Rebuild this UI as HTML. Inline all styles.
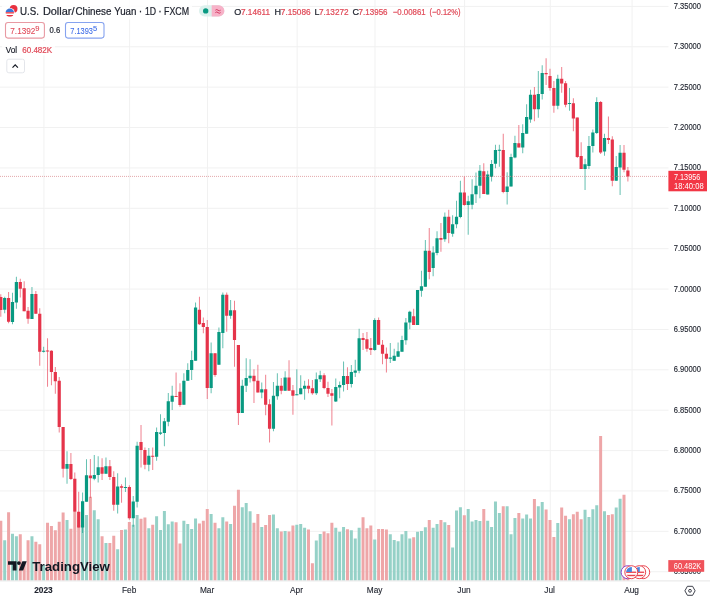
<!DOCTYPE html>
<html><head><meta charset="utf-8"><style>
html,body{margin:0;padding:0;background:#fff;width:710px;height:600px;overflow:hidden;font-family:"Liberation Sans",sans-serif;}
svg{position:absolute;left:0;top:0;font-family:"Liberation Sans",sans-serif;will-change:transform;}
</style></head><body>
<svg width="710" height="600" viewBox="0 0 710 600">
<path d="M0 6.4H668.5M0 46.78H668.5M0 87.16H668.5M0 127.54H668.5M0 167.92H668.5M0 208.3H668.5M0 248.68H668.5M0 289.06H668.5M0 329.44H668.5M0 369.82H668.5M0 410.2H668.5M0 450.58H668.5M0 490.96H668.5M0 531.34H668.5M0 571.72H668.5M43.94 0V580.5M129.64 0V580.5M207.54 0V580.5M297.12 0V580.5M375.02 0V580.5M464.61 0V580.5M550.29 0V580.5M632.09 0V580.5" stroke="#f1f1f1" stroke-width="1" fill="none"/>
<path d="M3.2 540.2h3V580.5h-3ZM10.99 533.8h3V580.5h-3ZM14.88 536.2h3V580.5h-3ZM30.46 536.2h3V580.5h-3ZM42.14 565h3V580.5h-3ZM65.52 520h3V580.5h-3ZM81.09 520h3V580.5h-3ZM84.99 515h3V580.5h-3ZM92.78 510.3h3V580.5h-3ZM96.67 519.2h3V580.5h-3ZM104.47 543h3V580.5h-3ZM116.15 549.2h3V580.5h-3ZM123.94 529.5h3V580.5h-3ZM131.73 524.7h3V580.5h-3ZM135.62 515h3V580.5h-3ZM147.31 528.3h3V580.5h-3ZM155.1 516.3h3V580.5h-3ZM159 530h3V580.5h-3ZM162.89 511h3V580.5h-3ZM166.79 524.2h3V580.5h-3ZM170.68 521.4h3V580.5h-3ZM182.37 520.8h3V580.5h-3ZM186.26 524.1h3V580.5h-3ZM190.16 529.1h3V580.5h-3ZM194.05 518.6h3V580.5h-3ZM209.63 514h3V580.5h-3ZM217.42 528.3h3V580.5h-3ZM221.32 517.3h3V580.5h-3ZM229.11 524.1h3V580.5h-3ZM240.79 507.2h3V580.5h-3ZM244.69 503h3V580.5h-3ZM248.58 511.3h3V580.5h-3ZM260.26 526.9h3V580.5h-3ZM271.95 514.4h3V580.5h-3ZM275.85 528.3h3V580.5h-3ZM283.63 530.9h3V580.5h-3ZM295.32 524.7h3V580.5h-3ZM299.22 524.1h3V580.5h-3ZM303.11 527.8h3V580.5h-3ZM314.8 540.6h3V580.5h-3ZM318.69 533.9h3V580.5h-3ZM334.27 527.8h3V580.5h-3ZM338.17 531.8h3V580.5h-3ZM342.06 526.9h3V580.5h-3ZM349.85 530.2h3V580.5h-3ZM353.75 538.4h3V580.5h-3ZM357.64 527.8h3V580.5h-3ZM373.22 539.4h3V580.5h-3ZM388.8 534.2h3V580.5h-3ZM392.69 540.1h3V580.5h-3ZM396.59 541.2h3V580.5h-3ZM400.49 534.2h3V580.5h-3ZM404.38 531.1h3V580.5h-3ZM408.28 538.4h3V580.5h-3ZM416.06 531.8h3V580.5h-3ZM419.96 531.1h3V580.5h-3ZM423.86 527.2h3V580.5h-3ZM431.65 527.8h3V580.5h-3ZM435.54 524.1h3V580.5h-3ZM443.33 522.3h3V580.5h-3ZM451.12 547.4h3V580.5h-3ZM455.01 510.4h3V580.5h-3ZM458.91 507.2h3V580.5h-3ZM466.7 509.1h3V580.5h-3ZM470.6 521.4h3V580.5h-3ZM474.49 520.1h3V580.5h-3ZM478.38 521h3V580.5h-3ZM486.18 520.8h3V580.5h-3ZM490.07 526.9h3V580.5h-3ZM493.97 501.6h3V580.5h-3ZM497.86 513.1h3V580.5h-3ZM505.65 506.3h3V580.5h-3ZM509.55 534.2h3V580.5h-3ZM513.44 518.1h3V580.5h-3ZM521.23 518.6h3V580.5h-3ZM525.12 514.4h3V580.5h-3ZM529.02 518.6h3V580.5h-3ZM536.81 506.3h3V580.5h-3ZM540.7 502.1h3V580.5h-3ZM556.28 523h3V580.5h-3ZM567.97 519.2h3V580.5h-3ZM583.55 509.7h3V580.5h-3ZM587.44 517h3V580.5h-3ZM591.34 509.2h3V580.5h-3ZM595.24 505.3h3V580.5h-3ZM603.02 511.2h3V580.5h-3ZM614.71 507.5h3V580.5h-3ZM618.6 498.7h3V580.5h-3Z" fill="#95d1c7"/>
<path d="M-0.7 520.7h3V580.5h-3ZM7.09 512.2h3V580.5h-3ZM18.78 534.2h3V580.5h-3ZM22.67 562h3V580.5h-3ZM26.57 540.2h3V580.5h-3ZM34.35 541.7h3V580.5h-3ZM38.25 544.3h3V580.5h-3ZM46.04 522.7h3V580.5h-3ZM49.93 526h3V580.5h-3ZM53.83 530.2h3V580.5h-3ZM57.72 521.8h3V580.5h-3ZM61.62 512.5h3V580.5h-3ZM69.41 528.7h3V580.5h-3ZM73.3 512h3V580.5h-3ZM77.2 525h3V580.5h-3ZM88.88 496.7h3V580.5h-3ZM100.57 536.3h3V580.5h-3ZM108.36 543h3V580.5h-3ZM112.25 535.8h3V580.5h-3ZM120.05 530h3V580.5h-3ZM127.84 522h3V580.5h-3ZM139.52 518.7h3V580.5h-3ZM143.42 517.5h3V580.5h-3ZM151.21 524.7h3V580.5h-3ZM174.58 522.3h3V580.5h-3ZM178.47 543.4h3V580.5h-3ZM197.95 523.6h3V580.5h-3ZM201.84 520.8h3V580.5h-3ZM205.74 509.1h3V580.5h-3ZM213.53 522.8h3V580.5h-3ZM225.21 521.4h3V580.5h-3ZM233 505.8h3V580.5h-3ZM236.9 489.8h3V580.5h-3ZM252.48 522.8h3V580.5h-3ZM256.37 514h3V580.5h-3ZM264.16 525h3V580.5h-3ZM268.06 515h3V580.5h-3ZM279.74 531.5h3V580.5h-3ZM287.53 531.5h3V580.5h-3ZM291.43 525.4h3V580.5h-3ZM307 529.6h3V580.5h-3ZM310.9 563.2h3V580.5h-3ZM322.59 531.5h3V580.5h-3ZM326.48 533.3h3V580.5h-3ZM330.38 522.8h3V580.5h-3ZM345.96 529.3h3V580.5h-3ZM361.54 517.3h3V580.5h-3ZM365.43 528.3h3V580.5h-3ZM369.32 525.4h3V580.5h-3ZM377.12 529.1h3V580.5h-3ZM381.01 529.1h3V580.5h-3ZM384.91 529.6h3V580.5h-3ZM412.17 537.3h3V580.5h-3ZM427.75 520.1h3V580.5h-3ZM439.44 520.1h3V580.5h-3ZM447.23 525h3V580.5h-3ZM462.81 515.3h3V580.5h-3ZM482.28 509.1h3V580.5h-3ZM501.75 506.3h3V580.5h-3ZM517.33 513.1h3V580.5h-3ZM532.91 499h3V580.5h-3ZM544.6 509.4h3V580.5h-3ZM548.5 519.9h3V580.5h-3ZM552.39 537h3V580.5h-3ZM560.18 507.5h3V580.5h-3ZM564.07 515.8h3V580.5h-3ZM571.87 514.2h3V580.5h-3ZM575.76 511.7h3V580.5h-3ZM579.65 519.2h3V580.5h-3ZM599.13 436h3V580.5h-3ZM606.92 515h3V580.5h-3ZM610.81 514.2h3V580.5h-3ZM622.5 494.7h3V580.5h-3ZM626.39 572h3V580.5h-3Z" fill="#eea6a8"/>
<path d="M4.2 296.7h1V313.3h-1ZM11.99 292.7h1V324.2h-1ZM15.88 276.7h1V308.7h-1ZM31.46 287h1V319h-1ZM43.14 346.7h1V352.5h-1ZM66.52 451.3h1V483.7h-1ZM82.09 492.5h1V533h-1ZM85.99 459.2h1V501.7h-1ZM93.78 455h1V480.3h-1ZM97.67 456.3h1V482.5h-1ZM105.47 457.5h1V473.7h-1ZM117.15 473.3h1V513.5h-1ZM124.94 477.5h1V492h-1ZM132.73 496h1V526.7h-1ZM136.62 441.7h1V507.5h-1ZM148.31 448h1V471.3h-1ZM156.1 427.5h1V460.8h-1ZM160 414.2h1V435h-1ZM163.89 418h1V446.3h-1ZM167.79 393h1V426.3h-1ZM171.68 385.8h1V410h-1ZM183.37 373.3h1V404.7h-1ZM187.26 363.3h1V380.8h-1ZM191.16 350.8h1V380h-1ZM195.05 302.5h1V360.8h-1ZM210.63 342.5h1V393.3h-1ZM218.42 327.5h1V364.7h-1ZM222.32 292.5h1V348.3h-1ZM230.11 300h1V318.7h-1ZM241.79 379.7h1V413h-1ZM245.69 358.3h1V392h-1ZM249.58 359.2h1V382.5h-1ZM261.26 382.5h1V398.3h-1ZM272.95 382h1V431.3h-1ZM276.85 373.3h1V399.7h-1ZM284.63 371.3h1V390.8h-1ZM296.32 369.2h1V395.3h-1ZM300.22 375.3h1V394.2h-1ZM304.11 380.8h1V399.7h-1ZM315.8 372.5h1V395h-1ZM319.69 370.8h1V382h-1ZM335.27 378.5h1V402h-1ZM339.17 381.5h1V398.3h-1ZM343.06 361.5h1V391.5h-1ZM350.85 365h1V387.5h-1ZM354.75 359.7h1V377h-1ZM358.64 328.7h1V373.3h-1ZM374.22 318.3h1V350.8h-1ZM389.8 343h1V363h-1ZM393.69 348.7h1V360.8h-1ZM397.59 342.5h1V356.7h-1ZM401.49 335.8h1V351.7h-1ZM405.38 318h1V344.7h-1ZM409.28 310.8h1V329.2h-1ZM417.06 290h1V325h-1ZM420.96 270.8h1V296.7h-1ZM424.86 240h1V286.7h-1ZM432.65 246.3h1V276.3h-1ZM436.54 231.3h1V255.3h-1ZM444.33 212.5h1V241.7h-1ZM452.12 215.3h1V236.7h-1ZM456.01 200.8h1V228.3h-1ZM459.91 180.8h1V218.3h-1ZM467.7 195.8h1V234.7h-1ZM471.6 179.2h1V209.2h-1ZM475.49 172.5h1V203h-1ZM479.38 165h1V198.3h-1ZM487.18 170.8h1V194.4h-1ZM491.07 160h1V181.5h-1ZM494.97 144.7h1V168.3h-1ZM498.86 144.7h1V166.7h-1ZM506.65 172.2h1V204.5h-1ZM510.55 153.7h1V186.5h-1ZM514.44 135.8h1V158.3h-1ZM522.23 124.2h1V153.3h-1ZM526.12 104.2h1V133.7h-1ZM530.02 89.7h1V122.7h-1ZM537.81 71h1V117.7h-1ZM541.7 65.3h1V99.6h-1ZM557.28 74.7h1V109.3h-1ZM568.97 88h1V110.7h-1ZM584.55 158.8h1V190h-1ZM588.44 135.9h1V168.9h-1ZM592.34 129.4h1V152.4h-1ZM596.24 97.3h1V134h-1ZM604.02 133.7h1V155.7h-1ZM615.71 156h1V180.8h-1ZM619.6 145h1V195h-1Z" fill="#089981" fill-opacity="0.62"/>
<path d="M3.1 298h3.2v11.7h-3.2ZM10.89 302h3.2v20h-3.2ZM14.78 282h3.2v20.5h-3.2ZM30.36 294h3.2v25h-3.2ZM42.04 350.8h3.2v1h-3.2ZM65.42 464h3.2v4.7h-3.2ZM81 501.3h3.2v26.2h-3.2ZM84.89 475.3h3.2v26.4h-3.2ZM92.68 475h3.2v3.7h-3.2ZM96.58 467.2h3.2v7.8h-3.2ZM104.37 466.2h3.2v7.5h-3.2ZM116.05 486.5h3.2v18.2h-3.2ZM123.84 487h3.2v1h-3.2ZM131.63 501.5h3.2v16.8h-3.2ZM135.53 445.8h3.2v55.9h-3.2ZM147.21 455.8h3.2v8.9h-3.2ZM155 432h3.2v24.7h-3.2ZM158.9 432.5h3.2v1.2h-3.2ZM162.79 421.3h3.2v11.7h-3.2ZM166.69 401.3h3.2v20.4h-3.2ZM170.58 395.8h3.2v5.9h-3.2ZM182.27 380.8h3.2v23.9h-3.2ZM186.16 370h3.2v10.8h-3.2ZM190.06 360h3.2v10h-3.2ZM193.95 307.5h3.2v53.3h-3.2ZM209.53 353.3h3.2v34.7h-3.2ZM217.32 332h3.2v32.7h-3.2ZM221.22 294.7h3.2v38.3h-3.2ZM229.01 310.3h3.2v5.5h-3.2ZM240.69 385.8h3.2v27.2h-3.2ZM244.59 378h3.2v7.8h-3.2ZM248.48 375.8h3.2v2.5h-3.2ZM260.16 389.2h3.2v3.3h-3.2ZM271.85 395.8h3.2v32.9h-3.2ZM275.75 385.8h3.2v10.5h-3.2ZM283.53 377.5h3.2v13.3h-3.2ZM295.22 394.2h3.2v1.1h-3.2ZM299.12 388.3h3.2v5.9h-3.2ZM303.01 385.8h3.2v2.9h-3.2ZM314.69 379.2h3.2v14.1h-3.2ZM318.59 375.3h3.2v3.9h-3.2ZM334.17 387h3.2v14.5h-3.2ZM338.06 385h3.2v2.5h-3.2ZM341.96 376h3.2v9h-3.2ZM349.75 372h3.2v12h-3.2ZM353.64 370.5h3.2v2.3h-3.2ZM357.54 338.3h3.2v32.5h-3.2ZM373.12 320h3.2v30h-3.2ZM388.7 357.5h3.2v1.2h-3.2ZM392.59 355.8h3.2v5h-3.2ZM396.49 351.3h3.2v5.4h-3.2ZM400.38 340h3.2v11.7h-3.2ZM404.28 322.5h3.2v17.8h-3.2ZM408.18 311.7h3.2v10.8h-3.2ZM415.96 290h3.2v35h-3.2ZM419.86 286.3h3.2v4.5h-3.2ZM423.75 250.8h3.2v35.9h-3.2ZM431.55 252.5h3.2v15.5h-3.2ZM435.44 238.3h3.2v14.7h-3.2ZM443.23 216.7h3.2v22.5h-3.2ZM451.02 224.2h3.2v9.5h-3.2ZM454.91 216.7h3.2v7.5h-3.2ZM458.81 192.5h3.2v24.5h-3.2ZM466.6 201.3h3.2v3.7h-3.2ZM470.5 194.2h3.2v10.5h-3.2ZM474.39 185.8h3.2v8.4h-3.2ZM478.28 170.8h3.2v15h-3.2ZM486.07 174.6h3.2v19.8h-3.2ZM489.97 164h3.2v13h-3.2ZM493.87 150h3.2v13.7h-3.2ZM497.76 149.7h3.2v1.1h-3.2ZM505.55 186.5h3.2v5.6h-3.2ZM509.44 157h3.2v29.5h-3.2ZM513.34 143h3.2v14.5h-3.2ZM521.13 133h3.2v14.5h-3.2ZM525.02 117h3.2v16.7h-3.2ZM528.92 94.7h3.2v24.9h-3.2ZM536.71 94h3.2v15.3h-3.2ZM540.6 73h3.2v21h-3.2ZM556.18 78.7h3.2v27h-3.2ZM567.87 103h3.2v1h-3.2ZM583.45 164.3h3.2v4.6h-3.2ZM587.34 146h3.2v20.1h-3.2ZM591.24 132.6h3.2v13.4h-3.2ZM595.13 101.9h3.2v31.2h-3.2ZM602.92 138h3.2v13.5h-3.2ZM614.61 167h3.2v13.8h-3.2ZM618.5 152.8h3.2v14.6h-3.2Z" fill="#089981"/>
<path d="M0.3 294.2h1V316.7h-1ZM8.09 292h1V323.3h-1ZM19.78 278.8h1V297.5h-1ZM23.67 281.3h1V311.3h-1ZM27.57 307h1V323.7h-1ZM35.35 291h1V313.8h-1ZM39.25 308.3h1V365.8h-1ZM47.04 338.3h1V386.7h-1ZM50.93 350.3h1V385.3h-1ZM54.83 367h1V393.7h-1ZM58.72 377h1V432.5h-1ZM62.62 427h1V477.5h-1ZM70.41 453h1V480h-1ZM74.3 472.5h1V511.7h-1ZM78.2 491.7h1V527.5h-1ZM89.88 459h1V498h-1ZM101.57 458.3h1V480h-1ZM109.36 460h1V480h-1ZM113.25 471.3h1V510.8h-1ZM121.05 484.2h1V502.8h-1ZM128.84 485.2h1V519.7h-1ZM140.52 425h1V467.5h-1ZM144.42 447.5h1V469.2h-1ZM152.21 447.5h1V470h-1ZM175.58 372.5h1V396.7h-1ZM179.47 383.3h1V406.7h-1ZM198.95 296.7h1V325h-1ZM202.84 317.5h1V333.3h-1ZM206.74 320h1V399h-1ZM214.53 353.3h1V376.7h-1ZM226.21 292.5h1V331.7h-1ZM234 300.8h1V366.7h-1ZM237.9 345h1V425h-1ZM253.48 369.2h1V403h-1ZM257.37 364.7h1V392.5h-1ZM265.16 374.7h1V415.3h-1ZM269.06 399.2h1V442.5h-1ZM280.74 378h1V394.2h-1ZM288.53 360.3h1V390.8h-1ZM292.43 385h1V414.7h-1ZM308 379.2h1V393.3h-1ZM311.9 380h1V394.7h-1ZM323.59 373.3h1V389.2h-1ZM327.48 381.7h1V397h-1ZM331.38 389h1V425.5h-1ZM346.96 367.2h1V390h-1ZM362.54 333h1V350h-1ZM366.43 332h1V351.7h-1ZM370.32 338h1V355h-1ZM378.12 317.5h1V345h-1ZM382.01 340h1V364.2h-1ZM385.91 347.5h1V372.5h-1ZM413.17 308.7h1V325h-1ZM428.75 228h1V279.2h-1ZM440.44 223h1V251.7h-1ZM448.23 209.7h1V243.3h-1ZM463.81 176.3h1V205.8h-1ZM483.28 163.3h1V194h-1ZM502.75 133.7h1V193.2h-1ZM518.33 125h1V147.5h-1ZM533.91 87h1V121.3h-1ZM545.6 58.3h1V85h-1ZM549.5 68.7h1V90.7h-1ZM553.39 81h1V112.7h-1ZM561.18 67h1V92.7h-1ZM565.07 81h1V107.3h-1ZM572.87 98.3h1V131.3h-1ZM576.76 117.5h1V157.9h-1ZM580.65 142.3h1V168.9h-1ZM600.13 101h1V153.9h-1ZM607.92 116.6h1V144.1h-1ZM611.81 136.2h1V186.3h-1ZM623.5 145h1V172.2h-1ZM627.39 167h1V181.4h-1Z" fill="#e5344a" fill-opacity="0.62"/>
<path d="M-0.8 297h3.2v13h-3.2ZM6.99 298h3.2v23.7h-3.2ZM18.68 282h3.2v6.7h-3.2ZM22.57 288.3h3.2v23h-3.2ZM26.46 310.8h3.2v7.9h-3.2ZM34.25 294h3.2v19.8h-3.2ZM38.15 313.8h3.2v37.9h-3.2ZM45.94 350.5h3.2v1h-3.2ZM49.83 350.8h3.2v21.2h-3.2ZM53.73 372h3.2v9.2h-3.2ZM57.62 380.8h3.2v46.2h-3.2ZM61.52 427h3.2v41.7h-3.2ZM69.31 464h3.2v15h-3.2ZM73.2 478.7h3.2v33h-3.2ZM77.1 511.7h3.2v15.8h-3.2ZM88.78 475.5h3.2v2.8h-3.2ZM100.47 467.2h3.2v6.5h-3.2ZM108.26 466.2h3.2v10.8h-3.2ZM112.16 477h3.2v27.7h-3.2ZM119.95 486.3h3.2v1.5h-3.2ZM127.74 487h3.2v31.3h-3.2ZM139.42 442h3.2v8h-3.2ZM143.32 450h3.2v14.7h-3.2ZM151.11 455.8h3.2v1h-3.2ZM174.48 396h3.2v1h-3.2ZM178.37 391.7h3.2v13.3h-3.2ZM197.85 309.7h3.2v14.5h-3.2ZM201.74 323h3.2v4h-3.2ZM205.64 327h3.2v61h-3.2ZM213.43 353.3h3.2v21.7h-3.2ZM225.11 294.7h3.2v21.1h-3.2ZM232.9 310.3h3.2v29.7h-3.2ZM236.8 345h3.2v68h-3.2ZM252.38 375.8h3.2v5.5h-3.2ZM256.27 380.8h3.2v11.7h-3.2ZM264.06 389.2h3.2v15.5h-3.2ZM267.95 404.2h3.2v24.5h-3.2ZM279.64 385.8h3.2v5h-3.2ZM287.43 377.5h3.2v13.3h-3.2ZM291.32 390.3h3.2v5.5h-3.2ZM306.9 385.8h3.2v2.9h-3.2ZM310.8 388.3h3.2v5h-3.2ZM322.49 375.3h3.2v12.7h-3.2ZM326.38 388h3.2v5.7h-3.2ZM330.27 393.3h3.2v2.5h-3.2ZM345.86 376h3.2v8h-3.2ZM361.44 338h3.2v2h-3.2ZM365.33 339.2h3.2v9.5h-3.2ZM369.22 348h3.2v2h-3.2ZM377.01 320h3.2v24.7h-3.2ZM380.91 344.7h3.2v9h-3.2ZM384.81 353.7h3.2v5h-3.2ZM412.07 316.3h3.2v8.7h-3.2ZM427.65 250.8h3.2v21.2h-3.2ZM439.33 238h3.2v1.7h-3.2ZM447.12 216.7h3.2v16.3h-3.2ZM462.7 192.5h3.2v12.5h-3.2ZM482.18 171.3h3.2v22.7h-3.2ZM501.65 150h3.2v42.1h-3.2ZM517.23 143.3h3.2v4.2h-3.2ZM532.81 94.7h3.2v14.6h-3.2ZM544.5 73h3.2v1.3h-3.2ZM548.39 76h3.2v12h-3.2ZM552.29 88h3.2v17.7h-3.2ZM560.08 78.7h3.2v4.9h-3.2ZM563.97 83.3h3.2v21.4h-3.2ZM571.76 103.2h3.2v15.2h-3.2ZM575.66 117.5h3.2v39.5h-3.2ZM579.55 156h3.2v12.9h-3.2ZM599.03 101.9h3.2v50.5h-3.2ZM606.82 138h3.2v1.9h-3.2ZM610.71 139.5h3.2v41.3h-3.2ZM622.4 152.8h3.2v17h-3.2ZM626.29 170.4h3.2v6.2h-3.2Z" fill="#e5344a"/>
<line x1="0" y1="176.4" x2="668" y2="176.4" stroke="#d98a8f" stroke-opacity="0.75" stroke-width="1" stroke-dasharray="1 1"/>
<g font-size="9.3" fill="#1e222d" stroke="#1e222d" stroke-width="0.15"><text x="673.7" y="8.9" textLength="27.3" lengthAdjust="spacingAndGlyphs">7.35000</text><text x="673.7" y="49.28" textLength="27.3" lengthAdjust="spacingAndGlyphs">7.30000</text><text x="673.7" y="89.66" textLength="27.3" lengthAdjust="spacingAndGlyphs">7.25000</text><text x="673.7" y="130.04" textLength="27.3" lengthAdjust="spacingAndGlyphs">7.20000</text><text x="673.7" y="170.42" textLength="27.3" lengthAdjust="spacingAndGlyphs">7.15000</text><text x="673.7" y="210.8" textLength="27.3" lengthAdjust="spacingAndGlyphs">7.10000</text><text x="673.7" y="251.18" textLength="27.3" lengthAdjust="spacingAndGlyphs">7.05000</text><text x="673.7" y="291.56" textLength="27.3" lengthAdjust="spacingAndGlyphs">7.00000</text><text x="673.7" y="331.94" textLength="27.3" lengthAdjust="spacingAndGlyphs">6.95000</text><text x="673.7" y="372.32" textLength="27.3" lengthAdjust="spacingAndGlyphs">6.90000</text><text x="673.7" y="412.7" textLength="27.3" lengthAdjust="spacingAndGlyphs">6.85000</text><text x="673.7" y="453.08" textLength="27.3" lengthAdjust="spacingAndGlyphs">6.80000</text><text x="673.7" y="493.46" textLength="27.3" lengthAdjust="spacingAndGlyphs">6.75000</text><text x="673.7" y="533.84" textLength="27.3" lengthAdjust="spacingAndGlyphs">6.70000</text><text x="673.7" y="574.22" textLength="27.3" lengthAdjust="spacingAndGlyphs">6.65000</text></g>
<rect x="668.4" y="170.8" width="38.6" height="20.5" fill="#f23645"/>
<g font-size="9.3" fill="#fff"><text x="674" y="180.1" textLength="26.3" lengthAdjust="spacingAndGlyphs">7.13956</text><text x="674" y="189.2" textLength="29.7" lengthAdjust="spacingAndGlyphs">18:40:08</text></g>
<rect x="668.3" y="560.1" width="35.9" height="11.7" fill="#f0525a"/>
<text x="673.8" y="569.4" font-size="9.3" fill="#fff" textLength="27.5" lengthAdjust="spacingAndGlyphs">60.482K</text>
<line x1="0" y1="580.9" x2="710" y2="580.9" stroke="#e6e6e6" stroke-width="1"/>
<g font-size="8.3" fill="#1e222d" stroke="#1e222d" stroke-width="0.12"><text x="43.4" y="593" text-anchor="middle" font-weight="bold">2023</text><text x="129.2" y="593" text-anchor="middle">Feb</text><text x="207.1" y="593" text-anchor="middle">Mar</text><text x="296.5" y="593" text-anchor="middle">Apr</text><text x="374.7" y="593" text-anchor="middle">May</text><text x="464" y="593" text-anchor="middle">Jun</text><text x="549.6" y="593" text-anchor="middle">Jul</text><text x="631.6" y="593" text-anchor="middle">Aug</text></g>
<g transform="translate(690 590.8)" fill="none" stroke="#2a2e39" stroke-width="0.9"><path d="M-2.6 -4.5L2.6 -4.5L5.1 0L2.6 4.5L-2.6 4.5L-5.1 0Z"/><circle r="1.4"/></g>
<circle cx="643.2" cy="572.2" r="6.5" fill="#fff" stroke="#e8434e" stroke-width="1"/>
<circle cx="639.2" cy="572.2" r="6.5" fill="#fff" stroke="#e8434e" stroke-width="1"/><clipPath id="e2"><circle cx="639.2" cy="572.2" r="5.2"/></clipPath><g clip-path="url(#e2)"><rect x="634.0" y="567.0" width="10.4" height="10.4" fill="#fff"/><rect x="634.0" y="571.6" width="10.4" height="1.3" fill="#e8434e"/><rect x="634.0" y="574.8000000000001" width="10.4" height="1.4" fill="#e8434e"/><rect x="634.0" y="567.0" width="5.8" height="5.0" fill="#4a86e0"/></g>
<circle cx="627.6" cy="572.2" r="6.5" fill="#fff" stroke="#8e44c8" stroke-width="1"/>
<circle cx="631.3" cy="572.2" r="6.5" fill="#fff" stroke="#e8434e" stroke-width="1"/><clipPath id="e1"><circle cx="631.3" cy="572.2" r="5.2"/></clipPath><g clip-path="url(#e1)"><rect x="626.0999999999999" y="567.0" width="10.4" height="10.4" fill="#fff"/><rect x="626.0999999999999" y="571.6" width="10.4" height="1.3" fill="#e8434e"/><rect x="626.0999999999999" y="574.8000000000001" width="10.4" height="1.4" fill="#e8434e"/><rect x="626.0999999999999" y="567.0" width="5.8" height="5.0" fill="#4a86e0"/></g>
<g fill="#131722"><path d="M8 561.3h8.5v9.3h-3.8v-5.9h-4.7z"/><circle cx="18.9" cy="563.1" r="1.9"/><path d="M22.4 561.3h4.3l-3.6 9.3h-4.3z"/></g>
<text x="32.2" y="571.1" font-size="13.7" font-weight="bold" fill="#131722" textLength="77.7" lengthAdjust="spacingAndGlyphs">TradingView</text>
<g fill="#fff" fill-opacity="0.85"><rect x="2" y="0" width="190" height="19.5"/><rect x="2" y="20" width="105" height="20"/><rect x="2" y="41" width="53" height="14.5"/></g>
<circle cx="13.6" cy="8.8" r="3.9" fill="#e8303f"/>
<clipPath id="hf"><circle cx="9.8" cy="12.8" r="4.2"/></clipPath><circle cx="9.8" cy="12.8" r="4.9" fill="#fff"/><g clip-path="url(#hf)"><rect x="5" y="8" width="10" height="10" fill="#fff"/><rect x="5" y="12.2" width="10" height="1.3" fill="#e8303f"/><rect x="5" y="15" width="10" height="1.6" fill="#e8303f"/><rect x="5" y="8" width="10" height="4" fill="#3c78d8"/></g>
<text x="19.9" y="14.7" font-size="10.4" fill="#1e222d" stroke="#1e222d" stroke-width="0.22" textLength="19.0" lengthAdjust="spacingAndGlyphs">U.S.</text>
<text x="42.9" y="14.7" font-size="10.4" fill="#1e222d" stroke="#1e222d" stroke-width="0.22" textLength="31.6" lengthAdjust="spacingAndGlyphs">Dollar/</text>
<text x="75.4" y="14.7" font-size="10.4" fill="#1e222d" stroke="#1e222d" stroke-width="0.22" textLength="36.0" lengthAdjust="spacingAndGlyphs">Chinese</text>
<text x="114.2" y="14.7" font-size="10.4" fill="#1e222d" stroke="#1e222d" stroke-width="0.22" textLength="22.2" lengthAdjust="spacingAndGlyphs">Yuan</text>
<text x="140.5" y="14.7" font-size="10.4" fill="#1e222d" stroke="#1e222d" stroke-width="0.22" text-anchor="middle">·</text>
<text x="145.0" y="14.7" font-size="10.4" fill="#1e222d" stroke="#1e222d" stroke-width="0.22" textLength="11.2" lengthAdjust="spacingAndGlyphs">1D</text>
<text x="160.0" y="14.7" font-size="10.4" fill="#1e222d" stroke="#1e222d" stroke-width="0.22" text-anchor="middle">·</text>
<text x="164.0" y="14.7" font-size="10.4" fill="#1e222d" stroke="#1e222d" stroke-width="0.22" textLength="25.0" lengthAdjust="spacingAndGlyphs">FXCM</text>
<rect x="199" y="5.3" width="25.4" height="11.2" rx="5.6" fill="#dcf1ed"/><path d="M211.7 5.3h7.1a5.6 5.6 0 0 1 0 11.2h-7.1z" fill="#f7b2c8"/><circle cx="205.7" cy="10.9" r="2.7" fill="#089981"/><path d="M215.4 10.2q1.3-1.3 2.6 0t2.6 0M215.4 12.6q1.3-1.3 2.6 0t2.6 0" fill="none" stroke="#d23a62" stroke-width="1"/>
<text x="234.3" y="15.1" font-size="9" fill="#1e222d" stroke="#1e222d" stroke-width="0.22">O</text>
<text x="241.0" y="15.1" font-size="8.8" fill="#e04a58" stroke="#e04a58" stroke-width="0.22" textLength="29.0" lengthAdjust="spacingAndGlyphs">7.14611</text>
<text x="274.5" y="15.1" font-size="9" fill="#1e222d" stroke="#1e222d" stroke-width="0.22">H</text>
<text x="280.8" y="15.1" font-size="8.8" fill="#e04a58" stroke="#e04a58" stroke-width="0.22" textLength="29.8" lengthAdjust="spacingAndGlyphs">7.15086</text>
<text x="314.5" y="15.1" font-size="9" fill="#1e222d" stroke="#1e222d" stroke-width="0.22">L</text>
<text x="318.9" y="15.1" font-size="8.8" fill="#e04a58" stroke="#e04a58" stroke-width="0.22" textLength="29.7" lengthAdjust="spacingAndGlyphs">7.13272</text>
<text x="352.5" y="15.1" font-size="9" fill="#1e222d" stroke="#1e222d" stroke-width="0.22">C</text>
<text x="358.6" y="15.1" font-size="8.8" fill="#e04a58" stroke="#e04a58" stroke-width="0.22" textLength="29.0" lengthAdjust="spacingAndGlyphs">7.13956</text>
<text x="392.8" y="15.1" font-size="8.8" fill="#e04a58" stroke="#e04a58" stroke-width="0.22" textLength="32.8" lengthAdjust="spacingAndGlyphs">−0.00861</text>
<text x="429.6" y="15.1" font-size="8.8" fill="#e04a58" stroke="#e04a58" stroke-width="0.22" textLength="31.0" lengthAdjust="spacingAndGlyphs">(−0.12%)</text>
<rect x="5.5" y="22.5" width="38.9" height="15.6" rx="2.5" fill="#fff" stroke="#e89aa3" stroke-width="1.1"/>
<text x="10.3" y="33.6" font-size="9.4" fill="#e04a58" stroke="#e04a58" stroke-width="0.1" textLength="25.1" lengthAdjust="spacingAndGlyphs">7.1392</text>
<text x="35.3" y="30.9" font-size="6.8" fill="#e04a58" stroke="#e04a58" stroke-width="0.1" textLength="4.2" lengthAdjust="spacingAndGlyphs">9</text>
<text x="49.6" y="32.9" font-size="8.6" fill="#1e222d" stroke="#1e222d" stroke-width="0.22" textLength="10.6" lengthAdjust="spacingAndGlyphs">0.6</text>
<rect x="65.5" y="22.5" width="38.5" height="15.6" rx="2.5" fill="#fff" stroke="#86a3ef" stroke-width="1.1"/>
<text x="70.3" y="33.6" font-size="9.4" fill="#3f6ee8" stroke="#3f6ee8" stroke-width="0.1" textLength="22.6" lengthAdjust="spacingAndGlyphs">7.1393</text>
<text x="92.9" y="30.9" font-size="6.8" fill="#3f6ee8" stroke="#3f6ee8" stroke-width="0.1" textLength="4.2" lengthAdjust="spacingAndGlyphs">5</text>
<text x="5.7" y="52.6" font-size="8.6" fill="#1e222d" stroke="#1e222d" stroke-width="0.22" textLength="11.3" lengthAdjust="spacingAndGlyphs">Vol</text>
<text x="22.2" y="52.6" font-size="8.6" fill="#e04a58" stroke="#e04a58" stroke-width="0.22" textLength="30.0" lengthAdjust="spacingAndGlyphs">60.482K</text>
<rect x="6.8" y="59.2" width="17.7" height="13.6" rx="2" fill="#fff" stroke="#e3e5ea" stroke-width="1"/><path d="M12.5 67.6l2.7-2.7 2.7 2.7" fill="none" stroke="#131722" stroke-width="1.2"/>
</svg>
</body></html>
